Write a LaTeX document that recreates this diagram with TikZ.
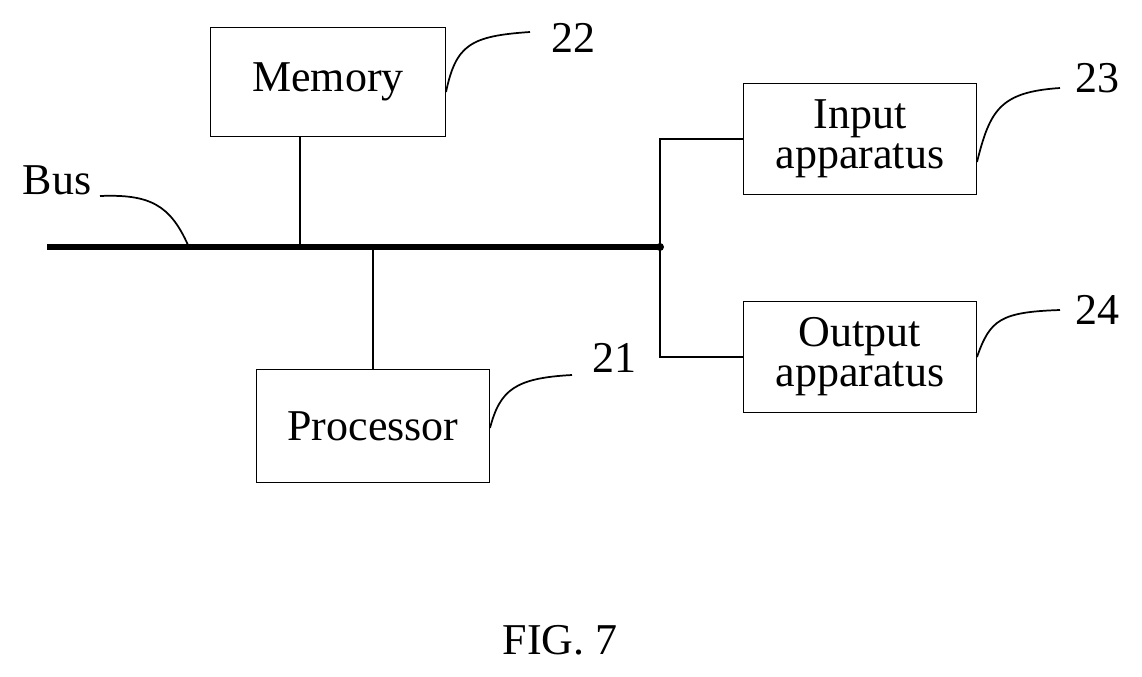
\documentclass[tikz,border=0pt]{standalone}
\usepackage{fontspec}
\setmainfont{Liberation Serif}
\begin{document}
\begin{tikzpicture}[x=0.75pt,y=-0.75pt,
  box/.style={draw,line width=1.3pt,minimum width=235*0.75pt,align=center,font=\fontsize{33}{34}\selectfont,inner sep=0pt},
  lab/.style={font=\fontsize{33}{34}\selectfont},
  ln/.style={line width=1.3pt}]
\useasboundingbox (0,0) rectangle (1142,676);
\node[box,minimum height=109*0.75pt] (mem) at (328,82) {Memory};
\node[box,minimum height=113*0.75pt,minimum width=233*0.75pt] (proc) at (373,426) {Processor};
\node[box,minimum height=111*0.75pt,minimum width=233*0.75pt] (in) at (860,139) {Input\\[-4pt]apparatus};
\node[box,minimum height=111*0.75pt,minimum width=233*0.75pt] (out) at (860,357) {Output\\[-4pt]apparatus};
\coordinate (bl) at (47,247);
\coordinate (br) at (660,247);
\draw[line width=4.5pt] (bl) -- (br);
\fill (br) circle (4);
\coordinate (mj) at (300,247);
\coordinate (pj) at (373,247);
\draw[ln] (mem.south -| mj) -- (mj);
\draw[ln] (pj) -- (proc.north);
\draw[ln] (br) |- (in.west);
\draw[ln] (br) |- (out.west);
\node[lab] (bus) at (57,180) {Bus};
\coordinate (busend) at (188,245);
\draw[ln] (100,196) .. controls (150,194) and (170,205) .. (busend);
\node[lab] (n22) at (573,38) {22};
\node[lab] (n23) at (1097,78) {23};
\node[lab] (n24) at (1097,310) {24};
\node[lab] (n21) at (614,358) {21};
\draw[ln] (446,92) .. controls (456,45) and (470,36) .. (530,32);
\draw[ln] (977,162) .. controls (990,110) and (1000,92) .. (1060,88);
\draw[ln] (977,357) .. controls (990,320) and (1000,312) .. (1060,310);
\draw[ln] (490,428) .. controls (500,390) and (515,378) .. (572,375);
\node[lab] (fig) at (560,640) {FIG. 7};
\end{tikzpicture}
\end{document}
